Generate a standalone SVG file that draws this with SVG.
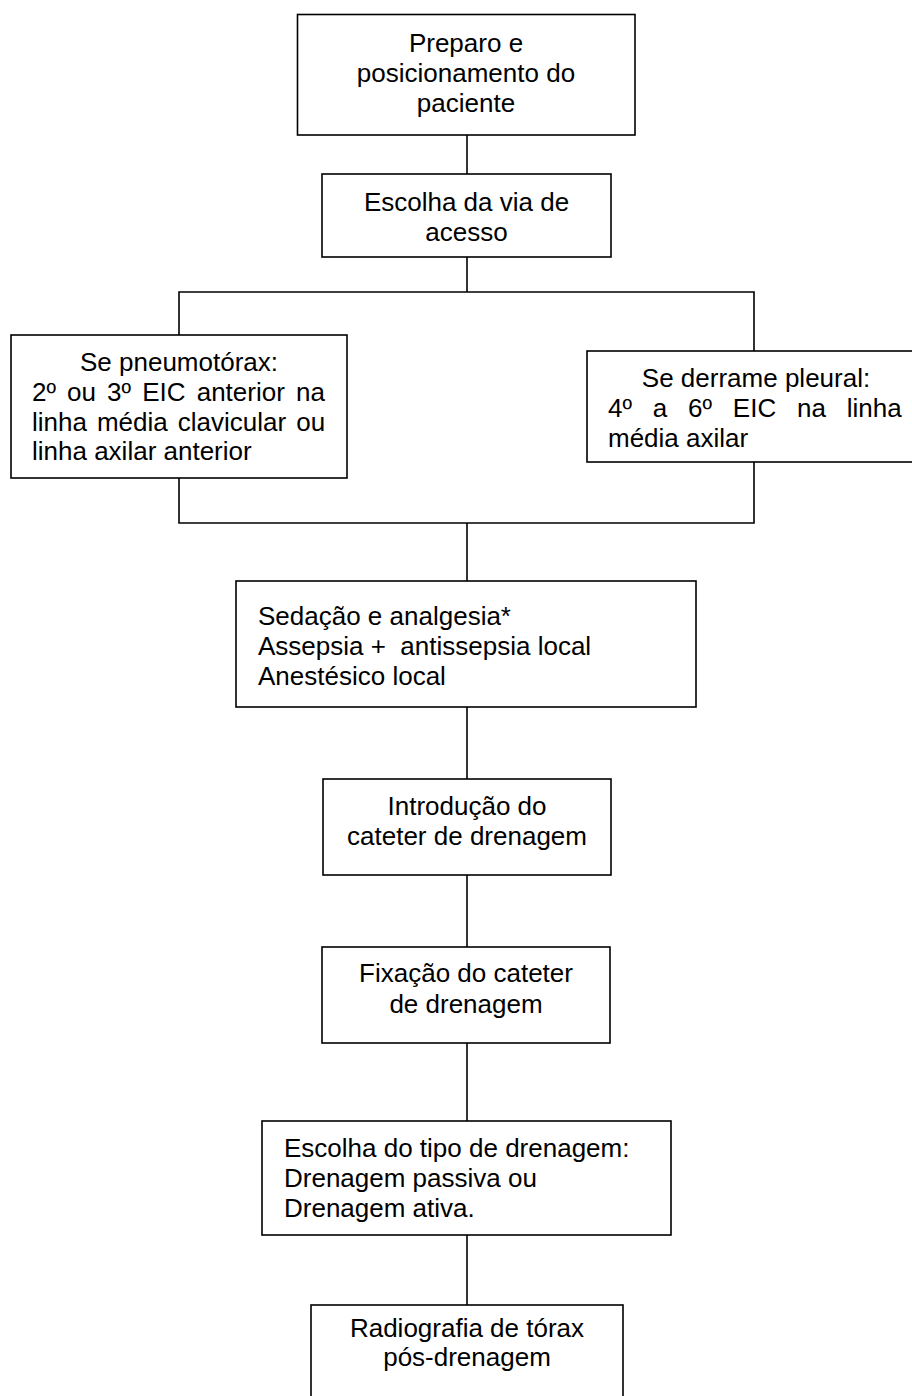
<svg xmlns="http://www.w3.org/2000/svg" width="912" height="1396" viewBox="0 0 912 1396">
<style>
.box{fill:#fff;stroke:#000;stroke-width:1.6}
.ln{fill:none;stroke:#000;stroke-width:1.6}
text{font-family:"Liberation Sans",Arial,sans-serif;font-size:26px;fill:#000}
.c{text-anchor:middle}
</style>
<rect x="0" y="0" width="912" height="1396" fill="#fff"/>
<g id="connectors">
<line class="ln" x1="467" y1="135" x2="467" y2="174"/>
<line class="ln" x1="467" y1="257" x2="467" y2="292"/>
<polyline class="ln" points="179,335 179,292 754,292 754,351"/>
<polyline class="ln" points="179,478 179,523 754,523 754,462"/>
<line class="ln" x1="467" y1="523" x2="467" y2="581"/>
<line class="ln" x1="467" y1="707" x2="467" y2="779"/>
<line class="ln" x1="467" y1="875" x2="467" y2="947"/>
<line class="ln" x1="467" y1="1043" x2="467" y2="1121"/>
<line class="ln" x1="467" y1="1235" x2="467" y2="1305"/>
</g>
<g id="n1">
<rect class="box" x="297.5" y="14.5" width="337.5" height="120.5"/>
<text class="c" x="466" y="52">Preparo e</text>
<text class="c" x="466" y="82">posicionamento do</text>
<text class="c" x="466" y="112">paciente</text>
</g>
<g id="n2">
<rect class="box" x="322" y="174" width="289" height="83"/>
<text class="c" x="466.5" y="211">Escolha da via de</text>
<text class="c" x="466.5" y="241">acesso</text>
</g>
<g id="n3">
<rect class="box" x="11" y="335" width="336" height="143"/>
<text class="c" x="179" y="371">Se pneumotórax:</text>
<text x="32" y="401" word-spacing="3.9">2º ou 3º EIC anterior na</text>
<text x="32" y="431" word-spacing="2.8">linha média clavicular ou</text>
<text x="32" y="460">linha axilar anterior</text>
</g>
<g id="n4">
<rect class="box" x="587" y="351" width="340" height="111"/>
<text class="c" x="756" y="387">Se derrame pleural:</text>
<text x="608" y="417" word-spacing="13.6">4º a 6º EIC na linha</text>
<text x="608" y="447">média axilar</text>
</g>
<g id="n5">
<rect class="box" x="236" y="581" width="460" height="126"/>
<text x="258" y="625">Sedação e analgesia*</text>
<text x="258" y="655" xml:space="preserve">Assepsia +  antissepsia local</text>
<text x="258" y="685">Anestésico local</text>
</g>
<g id="n6">
<rect class="box" x="323" y="779" width="288" height="96"/>
<text class="c" x="467" y="815">Introdução do</text>
<text class="c" x="467" y="845">cateter de drenagem</text>
</g>
<g id="n7">
<rect class="box" x="322" y="947" width="288" height="96"/>
<text class="c" x="466" y="982">Fixação do cateter</text>
<text class="c" x="466" y="1013">de drenagem</text>
</g>
<g id="n8">
<rect class="box" x="262" y="1121" width="409" height="114"/>
<text x="284" y="1157">Escolha do tipo de drenagem:</text>
<text x="284" y="1187">Drenagem passiva ou</text>
<text x="284" y="1217">Drenagem ativa.</text>
</g>
<g id="n9">
<rect class="box" x="311" y="1305" width="312" height="110"/>
<text class="c" x="467" y="1337">Radiografia de tórax</text>
<text class="c" x="467" y="1366">pós-drenagem</text>
</g>
</svg>
